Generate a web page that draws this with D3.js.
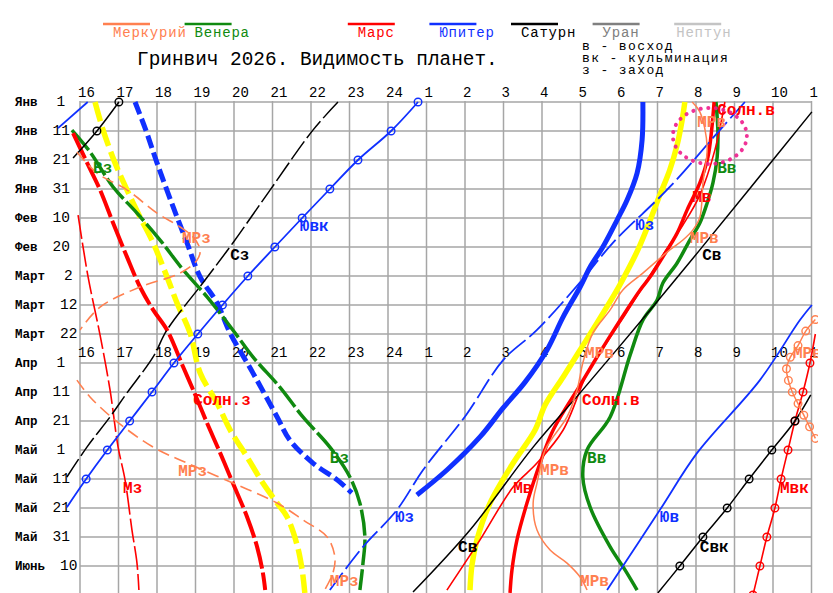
<!DOCTYPE html>
<html><head><meta charset="utf-8">
<script src="https://cdn.jsdelivr.net/npm/d3@7/dist/d3.min.js"></script>
<style>body{margin:0;background:#fff}text{font-family:"Courier New","Liberation Mono",monospace}</style>
</head><body>
<svg id="c" width="833" height="593"></svg>
<script>
// ---------- DATA (day of year from Jan 1, hour; hours > 24 = next morning) ----------
const hourTicks = d3.range(16, 36);
const dayTicks = d3.range(0, 180, 10);
const rowLabels = [["Янв","1"],["Янв","11"],["Янв","21"],["Янв","31"],["Фев","10"],["Фев","20"],["Март","2"],["Март","12"],["Март","22"],["Апр","1"],["Апр","11"],["Апр","21"],["Май","1"],["Май","11"],["Май","21"],["Май","31"],["Июнь","10"]];
const legendNames = ["Меркурий","Венера","","Марс","Юпитер","Сатурн","Уран","Нептун"];
const keyLines = ["в - восход","вк - кульминация","з - заход"];
const titleText = "Гринвич 2026. Видимость планет.";

const twilightEve = [[0,16.39],[9.7,16.6],[21,16.91],[30.3,17.22],[39.7,17.56],[48.6,17.9],[60.3,18.26],[69.3,18.52],[79.7,18.86],[93.4,19.12],[103.8,19.56],[113.1,19.9],[122.4,20.34],[131.4,20.75],[138.3,21.12],[143.1,21.38],[152.8,21.64],[161.4,21.77],[169.3,21.84]];
const twilightMorn = [[0,31.71],[6.2,31.64],[14.8,31.51],[23.4,31.32],[32.1,31.06],[43.4,30.73],[51,30.49],[57.9,30.23],[64.8,29.95],[76.2,29.43],[85.5,28.99],[94.8,28.55],[104.5,28.08],[113.1,27.82],[124.5,27.25],[138.3,26.65],[151,26.31],[159.7,26.18],[168.3,26.13]];
const sunSet = [[10.7,15.82],[21.7,16.21],[30.3,16.52],[41.7,16.86],[53.4,17.22],[63.8,17.56],[71.7,17.9],[78.6,18.26],[91.4,18.68],[99.3,18.94],[110.7,19.3],[121,19.64],[131.4,19.97],[143.1,20.34],[153.4,20.6],[162.4,20.75],[168.3,20.81]];
const sunRise = [[0,32.47],[19,32.31],[27.9,32.1],[37.2,31.77],[45.2,31.51],[53.4,31.14],[60.3,30.81],[64.8,30.55],[75.2,30.03],[86.2,29.51],[97.6,28.99],[113.1,28.29],[124.5,27.95],[138.3,27.61],[151,27.35],[161.4,27.22],[169.3,27.17]];
const venusSet = [[9.7,15.79],[17.2,16.26],[29.3,16.86],[38.3,17.48],[47.6,18.08],[57.9,18.68],[67.2,19.3],[78.6,19.97],[87.9,20.49],[98.3,21.19],[108.6,21.79],[119,22.49],[129.3,23.01],[138.3,23.27],[150,23.4],[159,23.35],[168.3,23.27]];
const venusRise = [[0,32.52],[10.7,32.57],[19,32.55],[27.9,32.44],[34.8,32.29],[41.7,32.1],[47.6,31.84],[55.5,31.51],[62.4,31.14],[68.3,30.99],[75.2,30.62],[87.2,30.29],[108.6,29.77],[120,29.17],[129.3,29.06],[139.7,29.25],[153.4,29.77],[161.4,30.16],[168.3,30.47]];
const marsSet = [[39,15.95],[60.3,16.21],[80.3,16.52],[99.3,16.78],[119,16.99],[130.3,17.17],[147.6,17.35],[159,17.48],[168.3,17.53]];
const marsRise = [[0,32.75],[16.6,32.49],[32.1,32.1],[42.4,31.66],[51.7,31.19],[62.4,30.68],[73.4,30.16],[83.8,29.64],[93.1,29.19],[113.1,28.55],[124.5,27.87],[132.8,27.25],[151,26.39],[168.3,25.53]];
const marsCulm = [[80,35.1],[90,34.96],[100,34.78],[110,34.57],[120,34.39],[130,34.21],[140,34.05],[150,33.84],[160,33.66],[170,33.48]];
const jupEve = [[0,17.43],[9.7,17.71],[21,18],[36.2,18.42],[48.6,18.78],[60.3,19.12],[69.3,19.56],[79.7,19.9],[93.4,20.49],[108.6,21.12],[116.6,21.45],[124.5,22.05],[130.3,22.68],[134.8,23.06]];
const jupMorn = [[0,30.62],[13.1,30.6],[24.5,30.47],[33.8,30.21],[40.7,29.95],[50,29.58],[56.9,29.25],[63.8,28.99],[74.1,28.55],[85.5,28.13],[96.6,27.56],[105.5,26.99],[115.5,26.39],[126.9,25.53],[135.5,24.75]];
const jupRiseA = [[0,16.2],[9,15.43]];
const jupRiseB = [[70,35.01],[75.2,34.7],[95.9,33.66],[121,32.03],[140.7,31.06],[168.3,29.69]];
const jupCulm = [[0,24.78],[10,24.08],[20,23.22],[30,22.49],[40,21.77],[50,21.06],[60,20.36],[70,19.7],[80,19.06],[90,18.44],[100,17.87],[110,17.29],[120,16.71],[130,16.16],[139.7,15.66]];
const jupSet = [[0,33.27],[10.7,32.55],[29.3,31.32],[48.6,29.84],[61.4,29.04],[78.6,27.87],[89,26.99],[107.9,26.03],[126.9,24.91],[140.7,24.23],[153.4,23.35],[168.3,22.49]];
const satSet = [[0,22.7],[9.7,22.05],[30.3,20.94],[48.6,19.97],[62.4,19.19],[78.6,18.26],[87.9,17.9],[100.3,17.22],[108.6,16.78],[119,16.18],[129.3,15.66]];
const satRise = [[3.4,35.01],[51,32.1],[71.7,30.81],[100.3,28.99],[119,27.77],[147.6,26.13],[169,24.65]];
const satCulmA = [[0,17.01],[10,16.44],[19.3,15.82]];
const satCulmB = [[101,34.98],[110,34.57],[120,33.97],[130,33.38],[140,32.81],[150,32.18],[160,31.58],[169.3,31.01]];
const mercSetA = [[17.2,15.92],[24.5,16.44],[30.3,17.22],[38.3,18],[43.1,18.6],[46.6,18.94],[51,19.12],[54.5,19.04],[59,18.6],[63.8,17.56],[70.7,16.52],[78.6,16]];
const mercSetB = [[95.9,15.92],[101.7,16.26],[109.7,16.91],[119,17.9],[124.5,18.78],[131.4,19.97],[138.3,21.12],[144.1,21.79],[150,22.42],[156.9,22.62],[162.4,22.57],[169.3,22.31]];
const mercRise = [[0,31.9],[3.4,32.1],[15.5,32.29],[27.9,32.18],[39.7,32.1],[44.1,31.92],[47.6,31.66],[51,31.32],[59,30.62],[64.8,30.1],[71.7,29.77],[79.7,29.32],[90,29.06],[99.3,28.91],[108.6,28.65],[115.5,28.29],[120,28.08],[131.4,27.87],[138.3,27.77],[147.6,27.87],[154.5,28.21],[159,28.65],[163.8,28.99],[168.3,29.17]];
const mercCulm = [[75,35.1],[79,34.85],[84,34.65],[88,34.45],[92,34.35],[96,34.4],[100,34.5],[104,34.65],[108,34.8],[112,34.95],[116,35.1]];

const curveLabels = [
 ["Ювк","jup",44.5,21.71],["Сз","sat",54.5,19.9],["МРз","merc",48.6,18.65],["Вз","ven",24.5,16.34],
 ["Солн.з","mars",104.5,18.94],["МРз","merc",129,18.55],["Мз","mars",134.8,17.12],["Вз","ven",124.5,22.49],
 ["Юз","jup",144.8,24.18],["МРз","merc",167,22.49],["Св","sat",155.2,25.82],["Мв","mars",134.8,27.25],
 ["МРв","merc",128.6,27.95],["Вв","ven",124.5,29.17],["МРв","merc",167,28.99],["Юв","jup",144.8,31.06],
 ["Свк","sat",155.2,32.1],["Мвк","mars",134.8,34.18],["Солн.в","mars",104.5,29.04],["МРв","merc",88.3,29.12],
 ["МРвк","merc",88.3,34.52],["Юз","jup",44.1,30.42],["МРв","merc",48.6,31.84],["Св","sat",54.5,32.16],
 ["Мв","mars",34.5,31.9],["Вв","ven",24.5,32.55],["МРв","merc",8.6,32.03],["Солн.в","mars",4.5,32.55]
];

// ---------- STYLES ----------
const col = {merc:"#ff8050", ven:"#108a10", mars:"#ff0000", jup:"#1030ff", sat:"#000000", ura:"#808080", nep:"#c4c4c4", tw:"#ffff00"};
const legendColors = [col.merc, col.ven, null, col.mars, col.jup, col.sat, col.ura, col.nep];

const series = [
 {d:twilightEve, c:col.tw, w:5.5, dash:"20,6"},
 {d:twilightMorn, c:col.tw, w:5.5},
 {d:jupEve, c:col.jup, w:5, dash:"13,5"},
 {d:jupMorn, c:col.jup, w:5},
 {d:venusSet, c:col.ven, w:3.5, dash:"26,4"},
 {d:venusRise, c:col.ven, w:3.5},
 {d:sunSet, c:col.mars, w:4, dash:"28,4"},
 {d:sunRise, c:col.mars, w:3.5},
 {d:marsSet, c:col.mars, w:1.6, dash:"24,4"},
 {d:marsRise, c:col.mars, w:1.6},
 {d:marsCulm, c:col.mars, w:1.6, circ:true},
 {d:jupRiseA, c:col.jup, w:1.8},
 {d:jupRiseB, c:col.jup, w:1.8},
 {d:jupSet, c:col.jup, w:1.8, dash:"22,5"},
 {d:jupCulm, c:col.jup, w:1.8, circ:true},
 {d:satSet, c:col.sat, w:1.5, dash:"22,4"},
 {d:satRise, c:col.sat, w:1.5},
 {d:satCulmA, c:col.sat, w:1.5, circ:true},
 {d:satCulmB, c:col.sat, w:1.5, circ:true},
 {d:mercSetA, c:col.merc, w:1.6, dash:"12,6"},
 {d:mercSetB, c:col.merc, w:1.6, dash:"12,6"},
 {d:mercRise, c:col.merc, w:1.5},
 {d:mercCulm, c:col.merc, w:1.5, circAll:true}
];

// ---------- DRAW ----------
const svg = d3.select("#c");
svg.append("rect").attr("width",833).attr("height",593).attr("fill","#fff");
svg.append("clipPath").attr("id","clip").append("rect").attr("x",0).attr("y",0).attr("width",818).attr("height",593);
const g = svg.append("g").attr("clip-path","url(#clip)");

const x = d3.scaleLinear().domain([16,35]).range([80,811.5]);
const y = d3.scaleLinear().domain([0,170]).range([102,595]);

// legend
legendNames.forEach((n,i)=>{
  if(!n) return;
  const lx = 103 + i*81.6;
  g.append("line").attr("x1",lx).attr("x2",lx+47).attr("y1",24).attr("y2",24).attr("stroke",legendColors[i]).attr("stroke-width",2.5);
  g.append("text").attr("x",lx+(i===7?2:10)).attr("y",37).attr("font-size",14).attr("letter-spacing",0.8).attr("fill",legendColors[i]).text(n);
});
g.append("text").attr("x",137).attr("y",65).attr("font-size",19.4).attr("fill","#000").text(titleText);
keyLines.forEach((t,i)=>g.append("text").attr("x",582).attr("y",50+i*12).attr("font-size",13).attr("letter-spacing",1.4).attr("fill","#000").text(t));

// grid
const grid = g.append("g").attr("stroke","#a6a6a6").attr("stroke-width",1.5);
grid.selectAll(".v").data(hourTicks).join("line").attr("x1",d=>x(d)).attr("x2",d=>x(d)).attr("y1",y(0)-1).attr("y2",y(170));
grid.selectAll(".h").data(dayTicks).join("line").attr("x1",x(16)).attr("x2",x(35)).attr("y1",d=>y(d)).attr("y2",d=>y(d));

// hour labels (top and middle rows)
const fmtH = h => h > 24 ? h - 24 : h;
[97, 357].forEach(yy=>{
  g.append("g").selectAll("text").data(hourTicks).join("text")
   .attr("x",d=>x(d)-2).attr("y",yy).attr("font-size",14).attr("fill","#000").text(d=>fmtH(d));
});

// row labels
rowLabels.forEach((r,i)=>{
  const yy = y(dayTicks[i]) + 4;
  g.append("text").attr("x",15).attr("y",yy).attr("font-size",12.5).attr("font-weight","bold").attr("fill","#000").text(r[0]);
  const mw = r[0].length*7.5;
  g.append("text").attr("x",15+mw+(r[1].length===1?19:15)).attr("y",yy).attr("font-size",14.5).attr("fill","#000").text(r[1]);
});

// curves
const line = d3.line().x(d=>x(d[1])).y(d=>y(d[0])).curve(d3.curveCatmullRom.alpha(0.5));
series.forEach(s=>{
  g.append("path").attr("d",line(s.d)).attr("fill","none").attr("stroke",s.c).attr("stroke-width",s.w)
   .attr("stroke-dasharray",s.dash||null).attr("stroke-linejoin","round");
  if(s.circ || s.circAll){
    const pts = s.d.filter(p => s.circAll || (Math.abs(p[0]%10)<1e-6 && p[1]>=16 && p[1]<=35));
    g.append("g").selectAll("circle").data(pts).join("circle")
      .attr("cx",d=>x(d[1])).attr("cy",d=>y(d[0])).attr("r",3.8)
      .attr("fill","none").attr("stroke",s.c).attr("stroke-width",1.4);
  }
});

// curve labels
g.append("g").selectAll("text").data(curveLabels).join("text")
  .attr("x",d=>x(d[3])).attr("y",d=>y(d[2])).attr("font-size",16).attr("font-weight","bold")
  .attr("fill",d=>col[d[1]]).text(d=>d[0]);

// highlight ellipse
g.append("ellipse").attr("cx",x(32.36)).attr("cy",y(11.7)).attr("rx",37).attr("ry",28)
  .attr("fill","none").attr("stroke","#ee1c8c").attr("stroke-width",4).attr("stroke-linecap","round")
  .attr("stroke-dasharray","0.1,7.5").attr("opacity",0.9);
</script>
</body></html>
